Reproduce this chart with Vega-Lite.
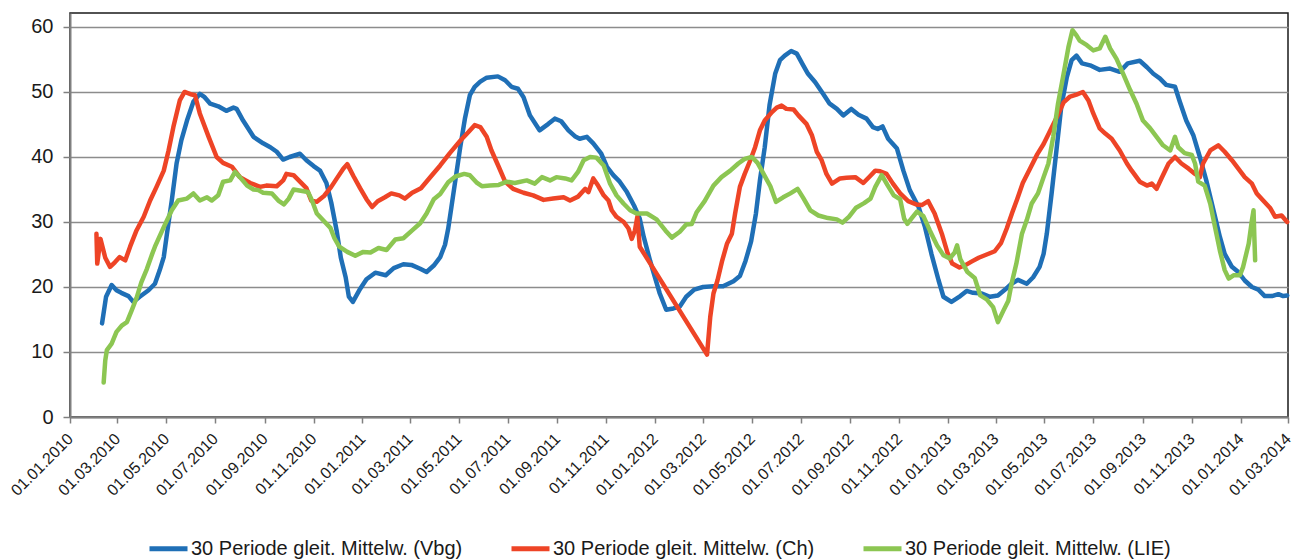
{
  "$schema": "https://vega.github.io/schema/vega-lite/v6.json",
  "width": 1218,
  "height": 404,
  "autosize": {"type": "none"},
  "padding": {"left": 70, "top": 13, "right": 13, "bottom": 142},
  "background": "white",
  "config": {
    "font": "Liberation Sans",
    "view": {"stroke": "#1a1a1a", "strokeWidth": 1.5}
  },
  "data": {
    "values": [
      {"t": "2010-02-10", "r": "Vbg", "v": 14.4},
      {"t": "2010-02-15", "r": "Vbg", "v": 18.5},
      {"t": "2010-02-22", "r": "Vbg", "v": 20.3},
      {"t": "2010-02-28", "r": "Vbg", "v": 19.5},
      {"t": "2010-03-06", "r": "Vbg", "v": 19.1},
      {"t": "2010-03-15", "r": "Vbg", "v": 18.6},
      {"t": "2010-03-21", "r": "Vbg", "v": 17.7},
      {"t": "2010-03-29", "r": "Vbg", "v": 18.5},
      {"t": "2010-04-09", "r": "Vbg", "v": 19.5},
      {"t": "2010-04-17", "r": "Vbg", "v": 20.5},
      {"t": "2010-04-23", "r": "Vbg", "v": 22.6},
      {"t": "2010-04-28", "r": "Vbg", "v": 24.6},
      {"t": "2010-05-02", "r": "Vbg", "v": 28.2},
      {"t": "2010-05-08", "r": "Vbg", "v": 33.3},
      {"t": "2010-05-14", "r": "Vbg", "v": 39.0},
      {"t": "2010-05-20", "r": "Vbg", "v": 42.6},
      {"t": "2010-05-27", "r": "Vbg", "v": 45.6},
      {"t": "2010-06-04", "r": "Vbg", "v": 48.5},
      {"t": "2010-06-12", "r": "Vbg", "v": 49.7},
      {"t": "2010-06-18", "r": "Vbg", "v": 49.2},
      {"t": "2010-06-25", "r": "Vbg", "v": 48.2},
      {"t": "2010-07-05", "r": "Vbg", "v": 47.8},
      {"t": "2010-07-15", "r": "Vbg", "v": 47.1},
      {"t": "2010-07-24", "r": "Vbg", "v": 47.6},
      {"t": "2010-07-28", "r": "Vbg", "v": 47.4},
      {"t": "2010-08-05", "r": "Vbg", "v": 45.6},
      {"t": "2010-08-18", "r": "Vbg", "v": 43.1},
      {"t": "2010-08-30", "r": "Vbg", "v": 42.1},
      {"t": "2010-09-08", "r": "Vbg", "v": 41.5},
      {"t": "2010-09-16", "r": "Vbg", "v": 40.8},
      {"t": "2010-09-24", "r": "Vbg", "v": 39.6},
      {"t": "2010-10-02", "r": "Vbg", "v": 40.0},
      {"t": "2010-10-15", "r": "Vbg", "v": 40.5},
      {"t": "2010-10-23", "r": "Vbg", "v": 39.5},
      {"t": "2010-11-01", "r": "Vbg", "v": 38.6},
      {"t": "2010-11-09", "r": "Vbg", "v": 37.9},
      {"t": "2010-11-17", "r": "Vbg", "v": 36.0},
      {"t": "2010-11-23", "r": "Vbg", "v": 33.0},
      {"t": "2010-11-30", "r": "Vbg", "v": 28.5},
      {"t": "2010-12-05", "r": "Vbg", "v": 24.5},
      {"t": "2010-12-11", "r": "Vbg", "v": 21.5},
      {"t": "2010-12-15", "r": "Vbg", "v": 18.5},
      {"t": "2010-12-20", "r": "Vbg", "v": 17.7},
      {"t": "2010-12-29", "r": "Vbg", "v": 19.7},
      {"t": "2011-01-06", "r": "Vbg", "v": 21.2},
      {"t": "2011-01-17", "r": "Vbg", "v": 22.2},
      {"t": "2011-01-30", "r": "Vbg", "v": 21.8},
      {"t": "2011-02-09", "r": "Vbg", "v": 22.9},
      {"t": "2011-02-21", "r": "Vbg", "v": 23.5},
      {"t": "2011-03-03", "r": "Vbg", "v": 23.4},
      {"t": "2011-03-14", "r": "Vbg", "v": 22.8},
      {"t": "2011-03-22", "r": "Vbg", "v": 22.3},
      {"t": "2011-03-31", "r": "Vbg", "v": 23.3},
      {"t": "2011-04-08", "r": "Vbg", "v": 24.6},
      {"t": "2011-04-14", "r": "Vbg", "v": 26.5},
      {"t": "2011-04-18", "r": "Vbg", "v": 29.0},
      {"t": "2011-04-22", "r": "Vbg", "v": 32.3},
      {"t": "2011-04-27", "r": "Vbg", "v": 36.5},
      {"t": "2011-05-03", "r": "Vbg", "v": 41.5},
      {"t": "2011-05-09", "r": "Vbg", "v": 46.0},
      {"t": "2011-05-15", "r": "Vbg", "v": 49.5},
      {"t": "2011-05-21", "r": "Vbg", "v": 50.8},
      {"t": "2011-05-28", "r": "Vbg", "v": 51.6},
      {"t": "2011-06-05", "r": "Vbg", "v": 52.2},
      {"t": "2011-06-19", "r": "Vbg", "v": 52.4},
      {"t": "2011-06-28", "r": "Vbg", "v": 51.8},
      {"t": "2011-07-06", "r": "Vbg", "v": 50.8},
      {"t": "2011-07-14", "r": "Vbg", "v": 50.5},
      {"t": "2011-07-21", "r": "Vbg", "v": 49.2},
      {"t": "2011-07-29", "r": "Vbg", "v": 46.4},
      {"t": "2011-08-10", "r": "Vbg", "v": 44.1},
      {"t": "2011-08-21", "r": "Vbg", "v": 45.1},
      {"t": "2011-08-29", "r": "Vbg", "v": 45.9},
      {"t": "2011-09-06", "r": "Vbg", "v": 45.5},
      {"t": "2011-09-15", "r": "Vbg", "v": 44.1},
      {"t": "2011-09-23", "r": "Vbg", "v": 43.2},
      {"t": "2011-09-29", "r": "Vbg", "v": 42.8},
      {"t": "2011-10-08", "r": "Vbg", "v": 43.1},
      {"t": "2011-10-16", "r": "Vbg", "v": 42.1},
      {"t": "2011-10-26", "r": "Vbg", "v": 40.5},
      {"t": "2011-11-02", "r": "Vbg", "v": 38.5},
      {"t": "2011-11-10", "r": "Vbg", "v": 37.2},
      {"t": "2011-11-18", "r": "Vbg", "v": 36.2},
      {"t": "2011-11-27", "r": "Vbg", "v": 34.6},
      {"t": "2011-12-06", "r": "Vbg", "v": 32.5},
      {"t": "2011-12-13", "r": "Vbg", "v": 30.5},
      {"t": "2011-12-18", "r": "Vbg", "v": 27.7},
      {"t": "2011-12-26", "r": "Vbg", "v": 24.0},
      {"t": "2012-01-01", "r": "Vbg", "v": 21.5},
      {"t": "2012-01-07", "r": "Vbg", "v": 19.0},
      {"t": "2012-01-15", "r": "Vbg", "v": 16.5},
      {"t": "2012-01-24", "r": "Vbg", "v": 16.7},
      {"t": "2012-02-01", "r": "Vbg", "v": 17.0},
      {"t": "2012-02-09", "r": "Vbg", "v": 18.5},
      {"t": "2012-02-19", "r": "Vbg", "v": 19.6},
      {"t": "2012-03-01", "r": "Vbg", "v": 20.0},
      {"t": "2012-03-14", "r": "Vbg", "v": 20.1},
      {"t": "2012-03-26", "r": "Vbg", "v": 20.1},
      {"t": "2012-04-08", "r": "Vbg", "v": 20.9},
      {"t": "2012-04-16", "r": "Vbg", "v": 21.7},
      {"t": "2012-04-23", "r": "Vbg", "v": 24.0},
      {"t": "2012-04-30", "r": "Vbg", "v": 27.0},
      {"t": "2012-05-06", "r": "Vbg", "v": 31.3},
      {"t": "2012-05-11", "r": "Vbg", "v": 36.4},
      {"t": "2012-05-17", "r": "Vbg", "v": 41.5},
      {"t": "2012-05-23", "r": "Vbg", "v": 48.0},
      {"t": "2012-05-30", "r": "Vbg", "v": 52.8},
      {"t": "2012-06-05", "r": "Vbg", "v": 54.9},
      {"t": "2012-06-11", "r": "Vbg", "v": 55.6},
      {"t": "2012-06-19", "r": "Vbg", "v": 56.3},
      {"t": "2012-06-26", "r": "Vbg", "v": 55.9},
      {"t": "2012-07-04", "r": "Vbg", "v": 54.1},
      {"t": "2012-07-10", "r": "Vbg", "v": 52.8},
      {"t": "2012-07-19", "r": "Vbg", "v": 51.5},
      {"t": "2012-07-29", "r": "Vbg", "v": 49.7},
      {"t": "2012-08-06", "r": "Vbg", "v": 48.2},
      {"t": "2012-08-15", "r": "Vbg", "v": 47.4},
      {"t": "2012-08-23", "r": "Vbg", "v": 46.4},
      {"t": "2012-09-02", "r": "Vbg", "v": 47.4},
      {"t": "2012-09-11", "r": "Vbg", "v": 46.5},
      {"t": "2012-09-21", "r": "Vbg", "v": 45.9},
      {"t": "2012-09-29", "r": "Vbg", "v": 44.6},
      {"t": "2012-10-05", "r": "Vbg", "v": 44.3},
      {"t": "2012-10-11", "r": "Vbg", "v": 44.7},
      {"t": "2012-10-18", "r": "Vbg", "v": 42.8},
      {"t": "2012-10-29", "r": "Vbg", "v": 41.3},
      {"t": "2012-11-06", "r": "Vbg", "v": 37.9},
      {"t": "2012-11-14", "r": "Vbg", "v": 34.9},
      {"t": "2012-11-25", "r": "Vbg", "v": 32.3},
      {"t": "2012-12-03", "r": "Vbg", "v": 29.2},
      {"t": "2012-12-11", "r": "Vbg", "v": 25.1},
      {"t": "2012-12-20", "r": "Vbg", "v": 21.0},
      {"t": "2012-12-26", "r": "Vbg", "v": 18.5},
      {"t": "2013-01-05", "r": "Vbg", "v": 17.7},
      {"t": "2013-01-16", "r": "Vbg", "v": 18.6},
      {"t": "2013-01-24", "r": "Vbg", "v": 19.4},
      {"t": "2013-02-01", "r": "Vbg", "v": 19.1},
      {"t": "2013-02-12", "r": "Vbg", "v": 19.0},
      {"t": "2013-02-22", "r": "Vbg", "v": 18.5},
      {"t": "2013-03-04", "r": "Vbg", "v": 18.7},
      {"t": "2013-03-13", "r": "Vbg", "v": 19.6},
      {"t": "2013-03-21", "r": "Vbg", "v": 20.5},
      {"t": "2013-03-29", "r": "Vbg", "v": 21.1},
      {"t": "2013-04-09", "r": "Vbg", "v": 20.5},
      {"t": "2013-04-17", "r": "Vbg", "v": 21.5},
      {"t": "2013-04-25", "r": "Vbg", "v": 23.1},
      {"t": "2013-04-30", "r": "Vbg", "v": 25.1},
      {"t": "2013-05-04", "r": "Vbg", "v": 28.2},
      {"t": "2013-05-10", "r": "Vbg", "v": 34.4},
      {"t": "2013-05-16", "r": "Vbg", "v": 41.0},
      {"t": "2013-05-22", "r": "Vbg", "v": 47.7},
      {"t": "2013-05-29", "r": "Vbg", "v": 52.3},
      {"t": "2013-06-04", "r": "Vbg", "v": 54.9},
      {"t": "2013-06-10", "r": "Vbg", "v": 55.6},
      {"t": "2013-06-17", "r": "Vbg", "v": 54.4},
      {"t": "2013-06-27", "r": "Vbg", "v": 54.1},
      {"t": "2013-07-09", "r": "Vbg", "v": 53.4},
      {"t": "2013-07-22", "r": "Vbg", "v": 53.6},
      {"t": "2013-08-03", "r": "Vbg", "v": 53.1},
      {"t": "2013-08-13", "r": "Vbg", "v": 54.4},
      {"t": "2013-08-28", "r": "Vbg", "v": 54.8},
      {"t": "2013-09-06", "r": "Vbg", "v": 53.8},
      {"t": "2013-09-14", "r": "Vbg", "v": 52.8},
      {"t": "2013-09-22", "r": "Vbg", "v": 52.1},
      {"t": "2013-09-30", "r": "Vbg", "v": 51.1},
      {"t": "2013-10-11", "r": "Vbg", "v": 50.8},
      {"t": "2013-10-17", "r": "Vbg", "v": 48.5},
      {"t": "2013-10-25", "r": "Vbg", "v": 45.6},
      {"t": "2013-11-03", "r": "Vbg", "v": 43.3},
      {"t": "2013-11-11", "r": "Vbg", "v": 40.0},
      {"t": "2013-11-19", "r": "Vbg", "v": 36.4},
      {"t": "2013-11-28", "r": "Vbg", "v": 31.8},
      {"t": "2013-12-06", "r": "Vbg", "v": 27.7},
      {"t": "2013-12-12", "r": "Vbg", "v": 25.1},
      {"t": "2013-12-21", "r": "Vbg", "v": 23.1},
      {"t": "2013-12-29", "r": "Vbg", "v": 22.3},
      {"t": "2014-01-06", "r": "Vbg", "v": 21.0},
      {"t": "2014-01-15", "r": "Vbg", "v": 20.0},
      {"t": "2014-01-23", "r": "Vbg", "v": 19.6},
      {"t": "2014-01-31", "r": "Vbg", "v": 18.6},
      {"t": "2014-02-09", "r": "Vbg", "v": 18.6},
      {"t": "2014-02-17", "r": "Vbg", "v": 18.9},
      {"t": "2014-02-23", "r": "Vbg", "v": 18.6},
      {"t": "2014-02-28", "r": "Vbg", "v": 18.7},

      {"t": "2010-02-03", "r": "Ch", "v": 28.2},
      {"t": "2010-02-04", "r": "Ch", "v": 23.6},
      {"t": "2010-02-08", "r": "Ch", "v": 27.4},
      {"t": "2010-02-14", "r": "Ch", "v": 24.5},
      {"t": "2010-02-20", "r": "Ch", "v": 23.1},
      {"t": "2010-02-26", "r": "Ch", "v": 23.8},
      {"t": "2010-03-04", "r": "Ch", "v": 24.6},
      {"t": "2010-03-11", "r": "Ch", "v": 24.1},
      {"t": "2010-03-17", "r": "Ch", "v": 26.2},
      {"t": "2010-03-25", "r": "Ch", "v": 28.7},
      {"t": "2010-04-03", "r": "Ch", "v": 30.8},
      {"t": "2010-04-11", "r": "Ch", "v": 33.3},
      {"t": "2010-04-19", "r": "Ch", "v": 35.4},
      {"t": "2010-04-28", "r": "Ch", "v": 37.9},
      {"t": "2010-05-04", "r": "Ch", "v": 41.0},
      {"t": "2010-05-10", "r": "Ch", "v": 44.6},
      {"t": "2010-05-18", "r": "Ch", "v": 48.7},
      {"t": "2010-05-24", "r": "Ch", "v": 50.0},
      {"t": "2010-06-02", "r": "Ch", "v": 49.6},
      {"t": "2010-06-06", "r": "Ch", "v": 49.5},
      {"t": "2010-06-12", "r": "Ch", "v": 46.7},
      {"t": "2010-06-23", "r": "Ch", "v": 43.1},
      {"t": "2010-07-03", "r": "Ch", "v": 40.0},
      {"t": "2010-07-11", "r": "Ch", "v": 39.1},
      {"t": "2010-07-22", "r": "Ch", "v": 38.5},
      {"t": "2010-08-01", "r": "Ch", "v": 36.9},
      {"t": "2010-08-14", "r": "Ch", "v": 36.0},
      {"t": "2010-08-26", "r": "Ch", "v": 35.4},
      {"t": "2010-09-03", "r": "Ch", "v": 35.6},
      {"t": "2010-09-16", "r": "Ch", "v": 35.5},
      {"t": "2010-09-24", "r": "Ch", "v": 36.4},
      {"t": "2010-09-28", "r": "Ch", "v": 37.4},
      {"t": "2010-10-07", "r": "Ch", "v": 37.2},
      {"t": "2010-10-15", "r": "Ch", "v": 36.2},
      {"t": "2010-10-23", "r": "Ch", "v": 35.2},
      {"t": "2010-10-29", "r": "Ch", "v": 33.3},
      {"t": "2010-11-05", "r": "Ch", "v": 33.1},
      {"t": "2010-11-14", "r": "Ch", "v": 34.0},
      {"t": "2010-11-23", "r": "Ch", "v": 35.4},
      {"t": "2010-12-01", "r": "Ch", "v": 36.9},
      {"t": "2010-12-08", "r": "Ch", "v": 38.2},
      {"t": "2010-12-13", "r": "Ch", "v": 38.9},
      {"t": "2010-12-21", "r": "Ch", "v": 37.0},
      {"t": "2010-12-29", "r": "Ch", "v": 35.2},
      {"t": "2011-01-06", "r": "Ch", "v": 33.5},
      {"t": "2011-01-13", "r": "Ch", "v": 32.3},
      {"t": "2011-01-20", "r": "Ch", "v": 33.2},
      {"t": "2011-01-29", "r": "Ch", "v": 33.8},
      {"t": "2011-02-06", "r": "Ch", "v": 34.4},
      {"t": "2011-02-16", "r": "Ch", "v": 34.1},
      {"t": "2011-02-23", "r": "Ch", "v": 33.6},
      {"t": "2011-03-04", "r": "Ch", "v": 34.5},
      {"t": "2011-03-15", "r": "Ch", "v": 35.2},
      {"t": "2011-03-26", "r": "Ch", "v": 36.8},
      {"t": "2011-04-08", "r": "Ch", "v": 38.7},
      {"t": "2011-04-20", "r": "Ch", "v": 40.6},
      {"t": "2011-05-03", "r": "Ch", "v": 42.5},
      {"t": "2011-05-13", "r": "Ch", "v": 43.8},
      {"t": "2011-05-21", "r": "Ch", "v": 44.9},
      {"t": "2011-05-28", "r": "Ch", "v": 44.6},
      {"t": "2011-06-05", "r": "Ch", "v": 43.1},
      {"t": "2011-06-11", "r": "Ch", "v": 41.0},
      {"t": "2011-06-20", "r": "Ch", "v": 38.5},
      {"t": "2011-06-28", "r": "Ch", "v": 36.2},
      {"t": "2011-07-08", "r": "Ch", "v": 35.1},
      {"t": "2011-07-21", "r": "Ch", "v": 34.5},
      {"t": "2011-08-02", "r": "Ch", "v": 34.1},
      {"t": "2011-08-15", "r": "Ch", "v": 33.4},
      {"t": "2011-08-27", "r": "Ch", "v": 33.6},
      {"t": "2011-09-09", "r": "Ch", "v": 33.8},
      {"t": "2011-09-17", "r": "Ch", "v": 33.3},
      {"t": "2011-09-27", "r": "Ch", "v": 33.9},
      {"t": "2011-10-06", "r": "Ch", "v": 35.1},
      {"t": "2011-10-10", "r": "Ch", "v": 34.6},
      {"t": "2011-10-16", "r": "Ch", "v": 36.7},
      {"t": "2011-10-22", "r": "Ch", "v": 35.6},
      {"t": "2011-10-29", "r": "Ch", "v": 34.1},
      {"t": "2011-11-04", "r": "Ch", "v": 33.3},
      {"t": "2011-11-08", "r": "Ch", "v": 31.8},
      {"t": "2011-11-14", "r": "Ch", "v": 30.8},
      {"t": "2011-11-23", "r": "Ch", "v": 30.0},
      {"t": "2011-11-29", "r": "Ch", "v": 29.0},
      {"t": "2011-12-03", "r": "Ch", "v": 27.4},
      {"t": "2011-12-07", "r": "Ch", "v": 28.7},
      {"t": "2011-12-10", "r": "Ch", "v": 30.8},
      {"t": "2011-12-13", "r": "Ch", "v": 26.2},
      {"t": "2012-03-06", "r": "Ch", "v": 9.6},
      {"t": "2012-03-10", "r": "Ch", "v": 15.4},
      {"t": "2012-03-14", "r": "Ch", "v": 19.0},
      {"t": "2012-03-19", "r": "Ch", "v": 21.0},
      {"t": "2012-03-25", "r": "Ch", "v": 24.1},
      {"t": "2012-03-31", "r": "Ch", "v": 26.7},
      {"t": "2012-04-06", "r": "Ch", "v": 28.2},
      {"t": "2012-04-10", "r": "Ch", "v": 31.3},
      {"t": "2012-04-16", "r": "Ch", "v": 35.4},
      {"t": "2012-04-22", "r": "Ch", "v": 37.4},
      {"t": "2012-04-29", "r": "Ch", "v": 39.5},
      {"t": "2012-05-05", "r": "Ch", "v": 41.5},
      {"t": "2012-05-11", "r": "Ch", "v": 44.1},
      {"t": "2012-05-17", "r": "Ch", "v": 45.6},
      {"t": "2012-05-26", "r": "Ch", "v": 46.9},
      {"t": "2012-06-01", "r": "Ch", "v": 47.6},
      {"t": "2012-06-07", "r": "Ch", "v": 47.9},
      {"t": "2012-06-13", "r": "Ch", "v": 47.4},
      {"t": "2012-06-22", "r": "Ch", "v": 47.3},
      {"t": "2012-06-28", "r": "Ch", "v": 46.4},
      {"t": "2012-07-08", "r": "Ch", "v": 45.1},
      {"t": "2012-07-15", "r": "Ch", "v": 43.3},
      {"t": "2012-07-21", "r": "Ch", "v": 40.8},
      {"t": "2012-07-27", "r": "Ch", "v": 39.5},
      {"t": "2012-08-02", "r": "Ch", "v": 37.4},
      {"t": "2012-08-09", "r": "Ch", "v": 35.9},
      {"t": "2012-08-19", "r": "Ch", "v": 36.7},
      {"t": "2012-08-27", "r": "Ch", "v": 36.8},
      {"t": "2012-09-07", "r": "Ch", "v": 36.9},
      {"t": "2012-09-17", "r": "Ch", "v": 36.0},
      {"t": "2012-09-25", "r": "Ch", "v": 37.0},
      {"t": "2012-10-02", "r": "Ch", "v": 37.9},
      {"t": "2012-10-08", "r": "Ch", "v": 37.8},
      {"t": "2012-10-16", "r": "Ch", "v": 37.4},
      {"t": "2012-10-24", "r": "Ch", "v": 35.9},
      {"t": "2012-11-02", "r": "Ch", "v": 34.4},
      {"t": "2012-11-12", "r": "Ch", "v": 33.2},
      {"t": "2012-11-22", "r": "Ch", "v": 32.7},
      {"t": "2012-11-29", "r": "Ch", "v": 32.6},
      {"t": "2012-12-07", "r": "Ch", "v": 33.2},
      {"t": "2012-12-15", "r": "Ch", "v": 31.3},
      {"t": "2012-12-24", "r": "Ch", "v": 28.2},
      {"t": "2012-12-31", "r": "Ch", "v": 25.3},
      {"t": "2013-01-06", "r": "Ch", "v": 23.6},
      {"t": "2013-01-15", "r": "Ch", "v": 23.0},
      {"t": "2013-01-23", "r": "Ch", "v": 23.4},
      {"t": "2013-01-30", "r": "Ch", "v": 23.9},
      {"t": "2013-02-08", "r": "Ch", "v": 24.5},
      {"t": "2013-02-18", "r": "Ch", "v": 25.0},
      {"t": "2013-02-28", "r": "Ch", "v": 25.5},
      {"t": "2013-03-08", "r": "Ch", "v": 26.8},
      {"t": "2013-03-15", "r": "Ch", "v": 29.0},
      {"t": "2013-03-22", "r": "Ch", "v": 31.5},
      {"t": "2013-03-28", "r": "Ch", "v": 33.5},
      {"t": "2013-04-04", "r": "Ch", "v": 36.0},
      {"t": "2013-04-13", "r": "Ch", "v": 38.2},
      {"t": "2013-04-22", "r": "Ch", "v": 40.4},
      {"t": "2013-04-30", "r": "Ch", "v": 42.0},
      {"t": "2013-05-08", "r": "Ch", "v": 44.0},
      {"t": "2013-05-16", "r": "Ch", "v": 46.0},
      {"t": "2013-05-25", "r": "Ch", "v": 48.4},
      {"t": "2013-06-02", "r": "Ch", "v": 49.3},
      {"t": "2013-06-10", "r": "Ch", "v": 49.6},
      {"t": "2013-06-18", "r": "Ch", "v": 50.0},
      {"t": "2013-06-25", "r": "Ch", "v": 48.7},
      {"t": "2013-07-01", "r": "Ch", "v": 46.7},
      {"t": "2013-07-09", "r": "Ch", "v": 44.4},
      {"t": "2013-07-16", "r": "Ch", "v": 43.6},
      {"t": "2013-07-24", "r": "Ch", "v": 42.8},
      {"t": "2013-08-03", "r": "Ch", "v": 41.0},
      {"t": "2013-08-12", "r": "Ch", "v": 39.0},
      {"t": "2013-08-18", "r": "Ch", "v": 37.9},
      {"t": "2013-08-28", "r": "Ch", "v": 36.2},
      {"t": "2013-09-06", "r": "Ch", "v": 35.6},
      {"t": "2013-09-12", "r": "Ch", "v": 35.9},
      {"t": "2013-09-18", "r": "Ch", "v": 35.1},
      {"t": "2013-09-24", "r": "Ch", "v": 36.7},
      {"t": "2013-10-03", "r": "Ch", "v": 39.0},
      {"t": "2013-10-11", "r": "Ch", "v": 40.0},
      {"t": "2013-10-19", "r": "Ch", "v": 39.0},
      {"t": "2013-10-28", "r": "Ch", "v": 38.2},
      {"t": "2013-11-05", "r": "Ch", "v": 37.4},
      {"t": "2013-11-11", "r": "Ch", "v": 36.9},
      {"t": "2013-11-15", "r": "Ch", "v": 39.0},
      {"t": "2013-11-24", "r": "Ch", "v": 41.0},
      {"t": "2013-12-04", "r": "Ch", "v": 41.8},
      {"t": "2013-12-12", "r": "Ch", "v": 40.8},
      {"t": "2013-12-21", "r": "Ch", "v": 39.5},
      {"t": "2013-12-29", "r": "Ch", "v": 38.2},
      {"t": "2014-01-06", "r": "Ch", "v": 36.9},
      {"t": "2014-01-15", "r": "Ch", "v": 35.9},
      {"t": "2014-01-21", "r": "Ch", "v": 34.4},
      {"t": "2014-01-29", "r": "Ch", "v": 33.3},
      {"t": "2014-02-07", "r": "Ch", "v": 32.1},
      {"t": "2014-02-13", "r": "Ch", "v": 30.8},
      {"t": "2014-02-21", "r": "Ch", "v": 31.0},
      {"t": "2014-02-28", "r": "Ch", "v": 30.0},

      {"t": "2010-02-12", "r": "LIE", "v": 5.3},
      {"t": "2010-02-14", "r": "LIE", "v": 8.7},
      {"t": "2010-02-16", "r": "LIE", "v": 10.3},
      {"t": "2010-02-22", "r": "LIE", "v": 11.3},
      {"t": "2010-02-28", "r": "LIE", "v": 13.1},
      {"t": "2010-03-07", "r": "LIE", "v": 14.1},
      {"t": "2010-03-13", "r": "LIE", "v": 14.6},
      {"t": "2010-03-19", "r": "LIE", "v": 16.4},
      {"t": "2010-03-25", "r": "LIE", "v": 18.3},
      {"t": "2010-03-31", "r": "LIE", "v": 20.7},
      {"t": "2010-04-07", "r": "LIE", "v": 22.8},
      {"t": "2010-04-13", "r": "LIE", "v": 24.9},
      {"t": "2010-04-17", "r": "LIE", "v": 26.2},
      {"t": "2010-04-28", "r": "LIE", "v": 29.2},
      {"t": "2010-05-08", "r": "LIE", "v": 31.8},
      {"t": "2010-05-16", "r": "LIE", "v": 33.3},
      {"t": "2010-05-27", "r": "LIE", "v": 33.6},
      {"t": "2010-06-04", "r": "LIE", "v": 34.4},
      {"t": "2010-06-12", "r": "LIE", "v": 33.3},
      {"t": "2010-06-21", "r": "LIE", "v": 33.8},
      {"t": "2010-06-27", "r": "LIE", "v": 33.3},
      {"t": "2010-07-05", "r": "LIE", "v": 34.1},
      {"t": "2010-07-11", "r": "LIE", "v": 36.2},
      {"t": "2010-07-20", "r": "LIE", "v": 36.4},
      {"t": "2010-07-26", "r": "LIE", "v": 37.7},
      {"t": "2010-08-01", "r": "LIE", "v": 36.9},
      {"t": "2010-08-10", "r": "LIE", "v": 35.6},
      {"t": "2010-08-18", "r": "LIE", "v": 35.0},
      {"t": "2010-08-24", "r": "LIE", "v": 34.9},
      {"t": "2010-08-30", "r": "LIE", "v": 34.5},
      {"t": "2010-09-10", "r": "LIE", "v": 34.4},
      {"t": "2010-09-18", "r": "LIE", "v": 33.3},
      {"t": "2010-09-25", "r": "LIE", "v": 32.7},
      {"t": "2010-10-01", "r": "LIE", "v": 33.6},
      {"t": "2010-10-07", "r": "LIE", "v": 35.0},
      {"t": "2010-10-16", "r": "LIE", "v": 34.8},
      {"t": "2010-10-25", "r": "LIE", "v": 34.6},
      {"t": "2010-10-30", "r": "LIE", "v": 33.3},
      {"t": "2010-11-05", "r": "LIE", "v": 31.3},
      {"t": "2010-11-15", "r": "LIE", "v": 30.0},
      {"t": "2010-11-22", "r": "LIE", "v": 29.1},
      {"t": "2010-11-27", "r": "LIE", "v": 27.5},
      {"t": "2010-12-03", "r": "LIE", "v": 26.2},
      {"t": "2010-12-13", "r": "LIE", "v": 25.4},
      {"t": "2010-12-23", "r": "LIE", "v": 24.8},
      {"t": "2011-01-02", "r": "LIE", "v": 25.4},
      {"t": "2011-01-11", "r": "LIE", "v": 25.3},
      {"t": "2011-01-21", "r": "LIE", "v": 26.0},
      {"t": "2011-01-31", "r": "LIE", "v": 25.7},
      {"t": "2011-02-11", "r": "LIE", "v": 27.3},
      {"t": "2011-02-21", "r": "LIE", "v": 27.5},
      {"t": "2011-03-04", "r": "LIE", "v": 28.7},
      {"t": "2011-03-14", "r": "LIE", "v": 29.8},
      {"t": "2011-03-22", "r": "LIE", "v": 31.3},
      {"t": "2011-03-31", "r": "LIE", "v": 33.5},
      {"t": "2011-04-08", "r": "LIE", "v": 34.3},
      {"t": "2011-04-18", "r": "LIE", "v": 36.1},
      {"t": "2011-04-27", "r": "LIE", "v": 37.0},
      {"t": "2011-05-08", "r": "LIE", "v": 37.4},
      {"t": "2011-05-15", "r": "LIE", "v": 37.2},
      {"t": "2011-05-24", "r": "LIE", "v": 36.0},
      {"t": "2011-05-30", "r": "LIE", "v": 35.5},
      {"t": "2011-06-09", "r": "LIE", "v": 35.6},
      {"t": "2011-06-20", "r": "LIE", "v": 35.7},
      {"t": "2011-06-30", "r": "LIE", "v": 36.2},
      {"t": "2011-07-10", "r": "LIE", "v": 36.0},
      {"t": "2011-07-25", "r": "LIE", "v": 36.4},
      {"t": "2011-08-04", "r": "LIE", "v": 35.9},
      {"t": "2011-08-13", "r": "LIE", "v": 36.9},
      {"t": "2011-08-23", "r": "LIE", "v": 36.4},
      {"t": "2011-08-31", "r": "LIE", "v": 36.9},
      {"t": "2011-09-11", "r": "LIE", "v": 36.7},
      {"t": "2011-09-19", "r": "LIE", "v": 36.4},
      {"t": "2011-09-27", "r": "LIE", "v": 37.7},
      {"t": "2011-10-04", "r": "LIE", "v": 39.5},
      {"t": "2011-10-12", "r": "LIE", "v": 40.0},
      {"t": "2011-10-20", "r": "LIE", "v": 39.9},
      {"t": "2011-10-29", "r": "LIE", "v": 38.7},
      {"t": "2011-11-06", "r": "LIE", "v": 35.9},
      {"t": "2011-11-14", "r": "LIE", "v": 34.1},
      {"t": "2011-11-23", "r": "LIE", "v": 32.8},
      {"t": "2011-12-01", "r": "LIE", "v": 31.8},
      {"t": "2011-12-09", "r": "LIE", "v": 31.3},
      {"t": "2011-12-22", "r": "LIE", "v": 31.3},
      {"t": "2012-01-03", "r": "LIE", "v": 30.4},
      {"t": "2012-01-14", "r": "LIE", "v": 28.7},
      {"t": "2012-01-22", "r": "LIE", "v": 27.6},
      {"t": "2012-02-01", "r": "LIE", "v": 28.5},
      {"t": "2012-02-09", "r": "LIE", "v": 29.6},
      {"t": "2012-02-16", "r": "LIE", "v": 29.7},
      {"t": "2012-02-22", "r": "LIE", "v": 31.5},
      {"t": "2012-03-03", "r": "LIE", "v": 33.2},
      {"t": "2012-03-14", "r": "LIE", "v": 35.6},
      {"t": "2012-03-24", "r": "LIE", "v": 36.9},
      {"t": "2012-04-04", "r": "LIE", "v": 37.9},
      {"t": "2012-04-14", "r": "LIE", "v": 39.0},
      {"t": "2012-04-22", "r": "LIE", "v": 39.7},
      {"t": "2012-05-01", "r": "LIE", "v": 40.0},
      {"t": "2012-05-08", "r": "LIE", "v": 39.1},
      {"t": "2012-05-16", "r": "LIE", "v": 37.3},
      {"t": "2012-05-24", "r": "LIE", "v": 35.5},
      {"t": "2012-05-31", "r": "LIE", "v": 33.1},
      {"t": "2012-06-09", "r": "LIE", "v": 33.8},
      {"t": "2012-06-18", "r": "LIE", "v": 34.4},
      {"t": "2012-06-27", "r": "LIE", "v": 35.1},
      {"t": "2012-07-04", "r": "LIE", "v": 33.7},
      {"t": "2012-07-13", "r": "LIE", "v": 31.8},
      {"t": "2012-07-23", "r": "LIE", "v": 31.0},
      {"t": "2012-08-04", "r": "LIE", "v": 30.6},
      {"t": "2012-08-15", "r": "LIE", "v": 30.4},
      {"t": "2012-08-22", "r": "LIE", "v": 29.9},
      {"t": "2012-08-30", "r": "LIE", "v": 30.8},
      {"t": "2012-09-08", "r": "LIE", "v": 32.2},
      {"t": "2012-09-18", "r": "LIE", "v": 32.9},
      {"t": "2012-09-26", "r": "LIE", "v": 33.6},
      {"t": "2012-10-02", "r": "LIE", "v": 35.4},
      {"t": "2012-10-10", "r": "LIE", "v": 37.2},
      {"t": "2012-10-17", "r": "LIE", "v": 35.7},
      {"t": "2012-10-25", "r": "LIE", "v": 34.1},
      {"t": "2012-11-02", "r": "LIE", "v": 33.5},
      {"t": "2012-11-07", "r": "LIE", "v": 30.5},
      {"t": "2012-11-11", "r": "LIE", "v": 29.7},
      {"t": "2012-11-16", "r": "LIE", "v": 30.5},
      {"t": "2012-11-23", "r": "LIE", "v": 31.6},
      {"t": "2012-12-01", "r": "LIE", "v": 30.9},
      {"t": "2012-12-09", "r": "LIE", "v": 28.7},
      {"t": "2012-12-18", "r": "LIE", "v": 26.4},
      {"t": "2012-12-26", "r": "LIE", "v": 24.9},
      {"t": "2013-01-03", "r": "LIE", "v": 24.4},
      {"t": "2013-01-09", "r": "LIE", "v": 25.3},
      {"t": "2013-01-12", "r": "LIE", "v": 26.4},
      {"t": "2013-01-16", "r": "LIE", "v": 24.3},
      {"t": "2013-01-25", "r": "LIE", "v": 22.3},
      {"t": "2013-02-03", "r": "LIE", "v": 21.4},
      {"t": "2013-02-10", "r": "LIE", "v": 18.7},
      {"t": "2013-02-18", "r": "LIE", "v": 18.1},
      {"t": "2013-02-26", "r": "LIE", "v": 16.9},
      {"t": "2013-03-04", "r": "LIE", "v": 14.6},
      {"t": "2013-03-11", "r": "LIE", "v": 16.4},
      {"t": "2013-03-17", "r": "LIE", "v": 17.9},
      {"t": "2013-03-21", "r": "LIE", "v": 20.5},
      {"t": "2013-03-27", "r": "LIE", "v": 23.6},
      {"t": "2013-04-03", "r": "LIE", "v": 28.2},
      {"t": "2013-04-09", "r": "LIE", "v": 30.3},
      {"t": "2013-04-15", "r": "LIE", "v": 32.8},
      {"t": "2013-04-23", "r": "LIE", "v": 34.4},
      {"t": "2013-04-30", "r": "LIE", "v": 36.9},
      {"t": "2013-05-06", "r": "LIE", "v": 39.0},
      {"t": "2013-05-12", "r": "LIE", "v": 43.1},
      {"t": "2013-05-18", "r": "LIE", "v": 48.2},
      {"t": "2013-05-25", "r": "LIE", "v": 52.8},
      {"t": "2013-05-31", "r": "LIE", "v": 56.9},
      {"t": "2013-06-05", "r": "LIE", "v": 59.5},
      {"t": "2013-06-10", "r": "LIE", "v": 58.7},
      {"t": "2013-06-14", "r": "LIE", "v": 57.9},
      {"t": "2013-06-23", "r": "LIE", "v": 57.2},
      {"t": "2013-07-01", "r": "LIE", "v": 56.4},
      {"t": "2013-07-09", "r": "LIE", "v": 56.7},
      {"t": "2013-07-16", "r": "LIE", "v": 58.5},
      {"t": "2013-07-22", "r": "LIE", "v": 56.7},
      {"t": "2013-07-30", "r": "LIE", "v": 55.1},
      {"t": "2013-08-08", "r": "LIE", "v": 52.6},
      {"t": "2013-08-16", "r": "LIE", "v": 50.3},
      {"t": "2013-08-24", "r": "LIE", "v": 48.2},
      {"t": "2013-09-01", "r": "LIE", "v": 45.6},
      {"t": "2013-09-10", "r": "LIE", "v": 44.4},
      {"t": "2013-09-18", "r": "LIE", "v": 43.1},
      {"t": "2013-09-26", "r": "LIE", "v": 41.8},
      {"t": "2013-10-05", "r": "LIE", "v": 41.0},
      {"t": "2013-10-11", "r": "LIE", "v": 43.1},
      {"t": "2013-10-15", "r": "LIE", "v": 41.5},
      {"t": "2013-10-23", "r": "LIE", "v": 40.6},
      {"t": "2013-11-01", "r": "LIE", "v": 40.3},
      {"t": "2013-11-05", "r": "LIE", "v": 39.0},
      {"t": "2013-11-09", "r": "LIE", "v": 36.2},
      {"t": "2013-11-17", "r": "LIE", "v": 35.6},
      {"t": "2013-11-24", "r": "LIE", "v": 32.8},
      {"t": "2013-11-30", "r": "LIE", "v": 29.2},
      {"t": "2013-12-06", "r": "LIE", "v": 25.6},
      {"t": "2013-12-12", "r": "LIE", "v": 22.6},
      {"t": "2013-12-17", "r": "LIE", "v": 21.3},
      {"t": "2013-12-23", "r": "LIE", "v": 21.8},
      {"t": "2013-12-31", "r": "LIE", "v": 21.8},
      {"t": "2014-01-04", "r": "LIE", "v": 23.1},
      {"t": "2014-01-11", "r": "LIE", "v": 26.7},
      {"t": "2014-01-15", "r": "LIE", "v": 30.3},
      {"t": "2014-01-17", "r": "LIE", "v": 31.8},
      {"t": "2014-01-18", "r": "LIE", "v": 27.7},
      {"t": "2014-01-19", "r": "LIE", "v": 24.1}
    ]
  },
  "mark": {"type": "line", "strokeWidth": 4.5, "strokeCap": "round", "strokeJoin": "round"},
  "encoding": {
    "x": {
      "field": "t",
      "type": "temporal",
      "scale": {
        "type": "utc",
        "domain": [
          {"year": 2010, "month": 1, "date": 1, "utc": true},
          {"year": 2014, "month": 3, "date": 1, "utc": true}
        ]
      },
      "axis": {
        "title": null,
        "format": "%d.%m.%Y",
        "tickCount": {"interval": "month", "step": 2},
        "labelAngle": -45,
        "labelAlign": "right",
        "labelBaseline": "middle",
        "labelFontSize": 16,
        "labelColor": "#1a1a1a",
        "labelOverlap": false,
        "labelFlush": false,
        "labelBound": false,
        "labelPadding": 13,
        "tickSize": 6,
        "tickColor": "#808080",
        "tickWidth": 1.5,
        "domainColor": "#808080",
        "domainWidth": 2,
        "grid": false
      }
    },
    "y": {
      "field": "v",
      "type": "quantitative",
      "scale": {"domain": [0, 62.15], "nice": false},
      "axis": {
        "title": null,
        "values": [0, 10, 20, 30, 40, 50, 60],
        "labelFontSize": 20,
        "labelColor": "#1a1a1a",
        "tickSize": 7,
        "labelPadding": 10,
        "tickColor": "#808080",
        "tickWidth": 1.5,
        "domainColor": "#808080",
        "domainWidth": 2,
        "grid": true,
        "gridColor": "#8c8c8c",
        "gridWidth": 1.5
      }
    },
    "color": {
      "field": "r",
      "type": "nominal",
      "scale": {"domain": ["Vbg", "Ch", "LIE"], "range": ["#1f6fb6", "#ee4426", "#8cc652"]},
      "legend": {
        "title": null,
        "orient": "none",
        "legendX": 77,
        "legendY": 514,
        "direction": "horizontal",
        "padding": 0,
        "symbolType": "stroke",
        "symbolSize": 1444,
        "symbolStrokeWidth": 5,
        "labelFontSize": 20,
        "labelColor": "#1a1a1a",
        "labelOffset": 1,
        "columnPadding": 38,
        "labelLimit": 400,
        "labelExpr": "'30 Periode gleit. Mittelw. (' + datum.label + ')'"
      }
    }
  }
}
